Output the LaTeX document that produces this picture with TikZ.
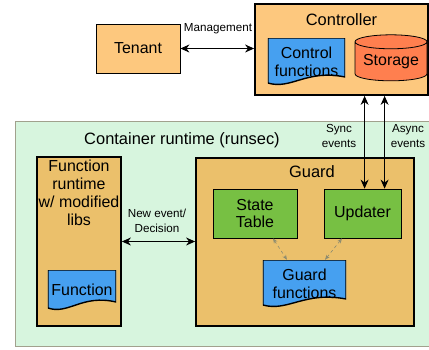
\documentclass[tikz,border=0pt]{standalone}
\usepackage{fontspec}
\setmainfont{Liberation Sans}
\usetikzlibrary{shapes}
\usetikzlibrary{arrows.meta}
\usetikzlibrary{positioning}
\usetikzlibrary{calc}
\definecolor{orclair}{HTML}{FDC87E}
\definecolor{orfonce}{HTML}{EBC06B}
\definecolor{bleu}{HTML}{46A0F0}
\definecolor{vert}{HTML}{77C043}
\definecolor{rouge}{HTML}{FF7F4F}
\definecolor{fond}{HTML}{D7F5DE}
\definecolor{gris}{HTML}{8A8A70}
\tikzstyle{bloc}=[rectangle,draw,line width=0.8bp,inner sep=0pt,
        font=\fontsize{16}{18}\selectfont,align=center]
\tikzstyle{cadre}=[rectangle,draw,line width=1.8bp,fill=orfonce,inner sep=0pt]
\tikzstyle{doc}=[rectangle,inner sep=0pt,font=\fontsize{16}{18}\selectfont,align=center,
        path picture={
          \coordinate (nw) at (path picture bounding box.north west);
          \coordinate (ne) at (path picture bounding box.north east);
          \coordinate (sw) at (path picture bounding box.south west);
          \coordinate (se) at (path picture bounding box.south east);
          \filldraw[fill=bleu,draw=black,line width=1.4bp] (nw) -- (ne) -- ($(se)+(0,8bp)$)
            .. controls ($(se)!0.5!(sw)+(0,16bp)$) and ($(sw)!0.3!(se)+(0,-5bp)$)
            .. ($(sw)+(0,2bp)$) -- cycle;
        }]
\tikzstyle{titre}=[font=\fontsize{16.5}{18}\selectfont,inner sep=0pt]
\tikzstyle{petit}=[font=\fontsize{11.7}{14.5}\selectfont,align=center,inner sep=0pt]
\tikzstyle{suite}=[{Stealth[length=9bp,width=8bp]}-{Stealth[length=9bp,width=8bp]},line width=1.1bp]
\tikzstyle{lien}=[{Stealth[open,length=5bp,width=4bp]}-{Stealth[open,length=5bp,width=4bp]},dashed,gris,line width=0.6bp]
\begin{document}
\begin{tikzpicture}[x=1bp,y=-1bp]
\useasboundingbox (0,0) rectangle (429,350);
\node[rectangle,draw=gris!80,line width=0.8bp,fill=fond,minimum width=416bp,minimum height=225bp] (cont) at (223,233.5) {};
\node[titre] (contt) at (182,140) {Container runtime (runsec)};
\node[bloc,fill=orclair,minimum width=84bp,minimum height=49bp] (tenant) at (138,48.5) {Tenant};
\node[cadre,fill=orclair,minimum width=173bp,minimum height=91bp] (ctrl) at (341.5,49.5) {};
\node[titre] (ctrlt) at (341.5,20) {Controller};
\node[doc,minimum width=77bp,minimum height=47bp] (cf) at (306.5,61.5) {Control\\functions};
\node[cylinder,shape border rotate=90,aspect=0.25,draw,line width=0.8bp,cylinder uses custom fill,
      cylinder body fill=rouge,cylinder end fill=rouge,minimum width=72bp,minimum height=46bp,
      inner sep=0pt,font=\fontsize{16}{18}\selectfont] (sto) at (391,61.5) {Storage};
\node[cadre,minimum width=84bp,minimum height=169bp] (frt) at (79,241.5) {};
\node[titre,anchor=north,align=center,font=\fontsize{16}{18}\selectfont] (frtt) at (79,160) {Function\\runtime\\w/ modified\\libs};
\node[doc,minimum width=68bp,minimum height=40bp] (fn) at (82,290) {Function};
\node[cadre,minimum width=218bp,minimum height=168bp] (guard) at (305,242) {};
\node[titre] (guardt) at (312,172) {Guard};
\node[bloc,fill=vert,minimum width=84bp,minimum height=49bp] (st) at (255,213.5) {State\\Table};
\node[bloc,fill=vert,minimum width=77bp,minimum height=49bp] (upd) at (362.5,213.5) {Updater};
\node[doc,minimum width=83bp,minimum height=47bp] (gf) at (304.5,283.5) {Guard\\functions};
\node[petit] (mgmt) at (218,29) {Management};
\node[petit] (nev) at (157,221) {New event/\\Decision};
\node[petit] (sync) at (339,136) {Sync\\events};
\node[petit] (async) at (408,136) {Async\\events};
%fleches
\draw[suite] (tenant) -- (tenant -| ctrl.west);
\draw[suite] (frt.east) -- (frt.east -| guard.west);
\draw[suite] ([xshift=41bp]upd.north west) -- ([xshift=41bp]upd.north west |- ctrl.south);
\draw[suite] ([xshift=61bp]upd.north west) -- ([xshift=61bp]upd.north west |- ctrl.south);
\draw[lien] ([xshift=18bp]st.south) -- ([xshift=-17.5bp]gf.north);
\draw[lien] ([xshift=-20.5bp]upd.south) -- ([xshift=20.5bp]gf.north);
\end{tikzpicture}
\end{document}
